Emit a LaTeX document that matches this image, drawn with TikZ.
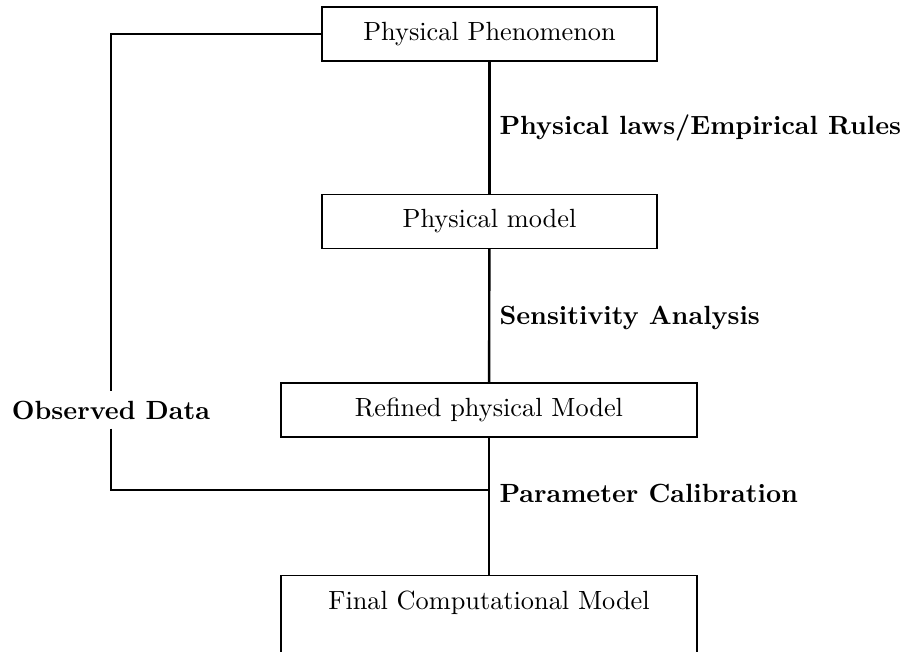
\documentclass[tikz,border=0pt]{standalone}
\usetikzlibrary{positioning}
\begin{document}
\begin{tikzpicture}[x=0.38pt,y=-0.38pt,
  box/.style={draw,line width=0.4pt,rectangle,inner sep=0pt,align=center},
  conn/.style={line width=0.9pt},
  lbl/.style={font=\bfseries,anchor=west,inner sep=0pt}]
\useasboundingbox (0,0) rectangle (908,652);
\node[box,minimum width=335*0.38pt,minimum height=54*0.38pt] (phen) at (489.5,34) {Physical Phenomenon};
\node[box,minimum width=335*0.38pt,minimum height=54*0.38pt] (pmod) at (489.5,221.5) {Physical model};
\node[box,minimum width=416*0.38pt,minimum height=54*0.38pt] (refined) at (489,410) {Refined physical Model};
\node[box,minimum width=416*0.38pt,anchor=north,text height=12.8pt,text depth=40pt] (final) at (489,575) {Final Computational Model};
\node[font=\bfseries] (obs) at (111,410) {Observed Data};
\coordinate (junc) at (489,490);
\draw[conn] (phen) -- (pmod);
\draw[conn] (pmod) -- (refined);
\draw[conn] (refined) -- (final);
\draw[conn] (phen.west) -| (obs.north);
\draw[conn] (obs.south) |- (junc);
\node[lbl] (l1) at (499,128) {Physical laws/Empirical Rules};
\node[lbl] (l2) at (499,318) {Sensitivity Analysis};
\node[lbl] (l3) at (499,493) {Parameter Calibration};
\end{tikzpicture}
\end{document}
